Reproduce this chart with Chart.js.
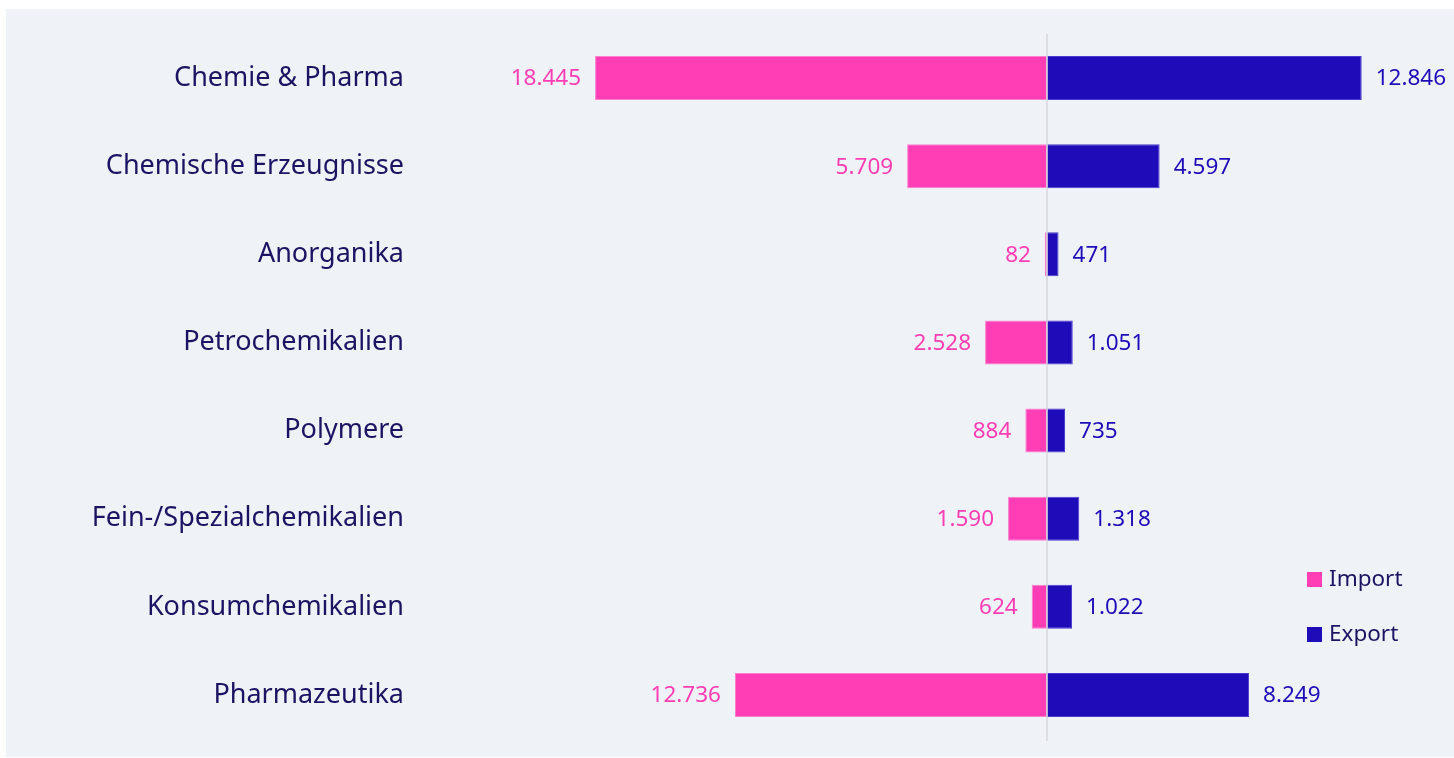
<!DOCTYPE html>
<html lang="de">
<head>
<meta charset="utf-8">
<title>Import / Export Chemie</title>
<script src="https://cdn.jsdelivr.net/npm/chart.js@4.4.1/dist/chart.umd.min.js"></script>
<style>
  html, body { margin: 0; padding: 0; background: #ffffff; }
  .chart_wrap { width: 1454px; height: 758px; position: relative; }
</style>
</head>
<body>
<div class="chart_wrap"><canvas id="bar-chart" width="1454" height="758"></canvas></div>
<script>
const categories = [
  "Chemie & Pharma",
  "Chemische Erzeugnisse",
  "Anorganika",
  "Petrochemikalien",
  "Polymere",
  "Fein-/Spezialchemikalien",
  "Konsumchemikalien",
  "Pharmazeutika",
];
const importValues = [18445, 5709, 82, 2528, 884, 1590, 624, 12736];
const exportValues = [12846, 4597, 471, 1051, 735, 1318, 1022, 8249];
const seriesNames = ["Import", "Export"];

const pink = "#ff3db4";
const blue = "#1f0cb9";
const navy = "#1b1462";
const fontName = "'Noto Sans', sans-serif";

const fmt = (v) => Math.abs(v).toLocaleString("de-DE");

// panel background
const panelBg = {
  id: "panelBg",
  beforeDraw(chart) {
    const ctx = chart.ctx;
    ctx.save();
    ctx.fillStyle = "#eff2f7";
    ctx.fillRect(6, 9, chart.width - 6, chart.height - 10);
    ctx.restore();
  },
};

// zero line, value labels and the legend
const extras = {
  id: "extras",
  afterDatasetsDraw(chart) {
    const ctx = chart.ctx;
    const x0 = chart.scales.x.getPixelForValue(0);
    const area = chart.chartArea;
    ctx.save();
    ctx.strokeStyle = "#d6d7db";
    ctx.lineWidth = 1.5;
    ctx.beginPath();
    ctx.moveTo(x0, area.top);
    ctx.lineTo(x0, area.bottom + 2);
    ctx.stroke();

    ctx.font = "22.5px " + fontName;
    ctx.textBaseline = "middle";
    chart.data.datasets.forEach((ds, di) => {
      const meta = chart.getDatasetMeta(di);
      meta.data.forEach((bar, i) => {
        const v = ds.data[i];
        ctx.fillStyle = ds.backgroundColor;
        if (v < 0) {
          ctx.textAlign = "right";
          ctx.fillText(fmt(v), bar.x - 14, bar.y + 1);
        } else {
          ctx.textAlign = "left";
          ctx.fillText(fmt(v), bar.x + 14, bar.y + 1);
        }
      });
    });

    // legend
    ctx.font = "22.5px " + fontName;
    ctx.textAlign = "left";
    chart.data.datasets.forEach((ds, di) => {
      const y = 579 + di * 55;
      ctx.fillStyle = ds.backgroundColor;
      ctx.fillRect(1307, y - 7, 15, 15);
      ctx.fillStyle = navy;
      ctx.fillText(ds.label, 1329, y + 1);
    });
    ctx.restore();
  },
};

new Chart(document.getElementById("bar-chart"), {
  type: "bar",
  data: {
    labels: categories,
    datasets: [
      {
        label: seriesNames[0],
        data: importValues.map((v) => -v),
        backgroundColor: pink,
        borderColor: "#ff7fcf",
        borderWidth: 1,
        borderSkipped: false,
      },
      {
        label: seriesNames[1],
        data: exportValues,
        backgroundColor: blue,
        borderColor: "#4a3bd0",
        borderWidth: 1,
        borderSkipped: false,
      },
    ],
  },
  options: {
    indexAxis: "y",
    responsive: false,
    animation: false,
    layout: { padding: { top: 34, bottom: 19, left: 0, right: 15 } },
    datasets: { bar: { barPercentage: 0.5, categoryPercentage: 1 } },
    plugins: {
      legend: { display: false },
      tooltip: { enabled: false },
    },
    scales: {
      x: {
        stacked: true,
        display: false,
        min: -26245,
        max: 16000,
      },
      y: {
        stacked: true,
        grid: { display: false, drawTicks: false },
        border: { display: false },
        ticks: {
          color: navy,
          padding: 0,
          font: { family: fontName, size: 27 },
        },
        afterFit(scale) {
          scale.width = 404;
        },
      },
    },
  },
  plugins: [panelBg, extras],
});
</script>
</body>
</html>
